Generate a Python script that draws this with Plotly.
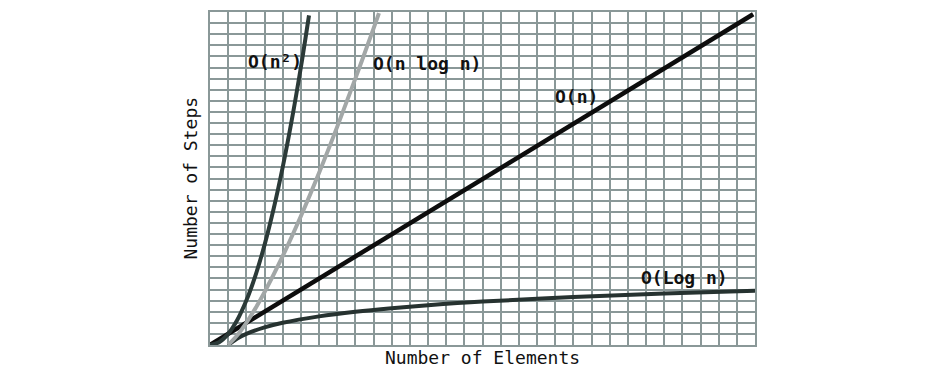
import plotly.graph_objects as go

# Data (grid units)
n2_x = [0, 0.5, 1, 1.5, 2, 2.5, 3, 3.5, 4, 4.5, 5, 5.45]
n2_y = [0, 0.25, 1, 2.25, 4, 6.25, 9, 12.25, 16, 20.25, 25, 29.7]

nlogn_x = [1, 1.5, 2, 2.5, 3, 4, 5, 6, 7, 8, 9, 9.3]
nlogn_y = [0, 0.88, 2, 3.3, 4.75, 8, 11.6, 15.5, 19.65, 24, 28.5, 29.9]

n_x = [0, 29.9]
n_y = [0, 29.8]

logn_x = [1, 1.5, 2, 3, 4, 6, 8, 10, 12, 15, 20, 25, 30]
logn_y = [0, 0.58, 1, 1.58, 2, 2.58, 3, 3.32, 3.58, 3.91, 4.32, 4.64, 4.88]

labels = ["O(n²)", "O(n log n)", "O(n)", "O(Log n)"]
label_x = [3.6, 11.95, 20.15, 26.1]
label_y = [25.5, 25.4, 22.4, 6.1]

grid_color = "#8a9898"
mono = "DejaVu Sans Mono"

fig = go.Figure()
fig.add_trace(go.Scatter(x=logn_x, y=logn_y, mode="lines", line=dict(color="#263230", width=4, shape="spline")))
fig.add_trace(go.Scatter(x=n_x, y=n_y, mode="lines", line=dict(color="#0d0d0d", width=4.5)))
fig.add_trace(go.Scatter(x=nlogn_x, y=nlogn_y, mode="lines", line=dict(color="#a2a7a7", width=4, shape="spline")))
fig.add_trace(go.Scatter(x=n2_x, y=n2_y, mode="lines", line=dict(color="#2b3a38", width=4, shape="spline")))

for t, lx, ly in zip(labels, label_x, label_y):
    fig.add_annotation(x=lx, y=ly, text="<b>" + t + "</b>", showarrow=False,
                       font=dict(family=mono, size=18, color="#111"))

fig.add_annotation(xref="paper", yref="paper", x=0.5, y=0, yshift=-12, yanchor="middle",
                   text="Number of Elements", showarrow=False,
                   font=dict(family=mono, size=18, color="#111"))
fig.add_annotation(xref="paper", yref="paper", x=0, y=0.5, xshift=-20, xanchor="center",
                   text="Number of Steps", textangle=-90, showarrow=False,
                   font=dict(family=mono, size=18, color="#111"))

axis_common = dict(showgrid=True, gridcolor=grid_color, gridwidth=2, dtick=1,
                   showticklabels=False, ticks="", zeroline=False,
                   showline=True, linecolor=grid_color, linewidth=2, mirror=True,
                   fixedrange=True)
fig.update_xaxes(range=[0, 30], tick0=0, **axis_common)
fig.update_yaxes(range=[0, 30], tick0=0, **axis_common)

fig.update_layout(width=937, height=379, margin=dict(l=210, r=182, t=10, b=34),
                  plot_bgcolor="white", paper_bgcolor="white", showlegend=False)

fig.write_html("out.html")
